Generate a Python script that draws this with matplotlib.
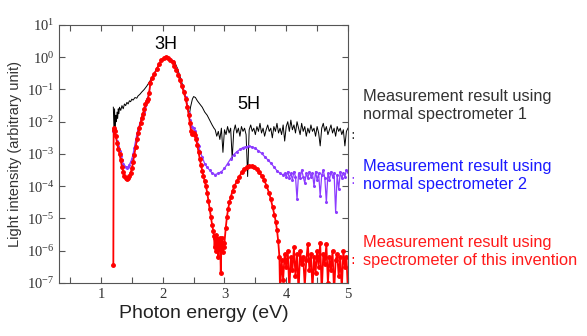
import numpy as np
import matplotlib.pyplot as plt

plt.rcParams['mathtext.fontset'] = 'custom'
plt.rcParams['mathtext.rm'] = 'Liberation Serif'
plt.rcParams['mathtext.it'] = 'Liberation Serif:italic'

# ---- Spectrometer 1 (black): energy (eV) and log10 intensity ----
e_black = [1.20, 1.21, 1.22, 1.23, 1.24, 1.25, 1.26, 1.27, 1.28, 1.29, 1.30, 1.32, 1.34,
           1.36, 1.38, 1.40, 1.42, 1.44, 1.46, 1.48, 1.50, 1.52, 1.55, 1.58, 1.60, 1.63,
           1.66, 1.70, 1.74, 1.78, 1.82, 1.86, 1.90, 1.94, 1.98, 2.02, 2.05, 2.08, 2.12,
           2.16, 2.20, 2.24, 2.28, 2.32, 2.36, 2.40, 2.43, 2.45, 2.48, 2.50, 2.53, 2.56,
           2.60, 2.64, 2.68, 2.72, 2.76, 2.80, 2.83]
log_black = [-1.55, -2.2, -1.6, -2.3, -1.8, -2.0, -1.7, -1.9, -1.6, -1.75, -1.55, -1.65, -1.5,
             -1.6, -1.45, -1.5, -1.4, -1.45, -1.35, -1.38, -1.3, -1.33, -1.25, -1.27, -1.2, -1.15,
             -1.08, -1.0, -0.9, -0.78, -0.65, -0.52, -0.38, -0.22, -0.1, -0.02, 0.0, -0.02, -0.06,
             -0.1, -0.18, -0.35, -0.6, -0.85, -1.15, -1.5, -1.8, -1.55, -1.3, -1.22, -1.25, -1.35,
             -1.45, -1.55, -1.7, -1.8, -1.95, -2.1, -2.2]
# noisy tail, sampled every 0.025 eV from 2.85 to 5.0
log_black_tail = [-2.25, -2.45, -2.3, -2.55, -2.2, -2.95, -2.25, -2.4, -2.15, -2.35,
                  -2.2, -3.15, -2.3, -2.1, -2.35, -2.2, -2.45, -2.15, -2.3, -2.2,
                  -2.4, -3.7, -2.25, -2.1, -2.3, -2.2, -2.4, -2.15, -2.3, -2.05,
                  -2.35, -2.2, -2.45, -2.25, -2.1, -2.3, -2.2, -2.5, -2.15, -2.3,
                  -2.05, -2.35, -2.2, -2.4, -2.1, -2.6, -2.15, -2.0, -2.3, -1.95,
                  -2.25, -2.1, -2.35, -2.0, -2.2, -2.4, -2.05, -2.3, -2.15, -2.45,
                  -2.2, -2.35, -2.1, -2.3, -2.2, -2.45, -2.15, -2.35, -2.75, -2.2,
                  -2.05, -2.3, -2.15, -2.4, -2.25, -2.1, -2.35, -2.2, -2.45, -2.15,
                  -2.3, -2.2, -2.4, -2.25, -2.75, -2.3, -2.2]

# ---- Spectrometer 2 (purple) ----
e_purple = [1.20, 1.22, 1.24, 1.26, 1.28, 1.30, 1.32, 1.34, 1.36, 1.38, 1.40, 1.42, 1.44,
            1.46, 1.48, 1.50, 1.52, 1.54, 1.56, 1.58, 1.60, 1.63, 1.66, 1.69, 1.72, 1.75,
            1.78, 1.80, 1.83, 1.86, 1.90, 1.94, 1.98, 2.02, 2.05, 2.08, 2.12, 2.16, 2.19,
            2.22, 2.25, 2.28, 2.31, 2.34, 2.37, 2.40, 2.42, 2.44, 2.46, 2.48, 2.50, 2.52,
            2.55, 2.58, 2.61, 2.64, 2.68, 2.72, 2.76, 2.80, 2.85, 2.90, 2.95, 3.00, 3.05,
            3.10, 3.15, 3.20, 3.25, 3.30, 3.35, 3.40, 3.45, 3.50, 3.55, 3.60, 3.65, 3.70,
            3.75, 3.80, 3.85, 3.90]
log_purple = [-2.3, -2.25, -2.45, -2.6, -2.75, -2.9, -3.05, -3.2, -3.3, -3.38, -3.42, -3.43, -3.4,
              -3.33, -3.25, -3.15, -3.0, -2.8, -2.6, -2.4, -2.25, -2.05, -1.85, -1.7, -1.5, -1.3,
              -1.1, -0.8, -0.65, -0.52, -0.38, -0.22, -0.1, -0.02, 0.0, -0.03, -0.07, -0.13, -0.25,
              -0.37, -0.52, -0.68, -0.86, -1.04, -1.24, -1.5, -1.72, -1.95, -2.12, -2.15, -2.2, -2.3,
              -2.5, -2.75, -2.95, -3.1, -3.3, -3.42, -3.5, -3.6, -3.64, -3.6, -3.55, -3.45, -3.3,
              -3.15, -3.02, -2.93, -2.86, -2.8, -2.77, -2.76, -2.78, -2.83, -2.9, -2.98, -3.08, -3.18,
              -3.28, -3.4, -3.52, -3.6]
# noisy tail, every 0.025 eV from 3.95 to 5.0
log_purple_tail = [-3.65, -3.6, -3.7, -3.55, -3.75, -3.6, -3.8, -3.55, -3.7, -4.4,
                   -3.6, -3.75, -3.5, -3.7, -3.9, -3.6, -3.75, -3.55, -3.7, -3.6,
                   -4.0, -3.55, -3.8, -3.6, -4.3, -3.65, -3.5, -3.75, -4.5, -3.6,
                   -3.8, -3.55, -3.7, -3.6, -4.8, -3.65, -4.1, -3.55, -3.75, -3.6,
                   -3.7, -3.5, -3.55]

# ---- Spectrometer of this invention (red) ----
e_red = [1.20, 1.205, 1.21, 1.22, 1.24, 1.26, 1.28, 1.30, 1.32, 1.34, 1.36, 1.38, 1.40, 1.42,
         1.44, 1.46, 1.48, 1.50, 1.52, 1.54, 1.56, 1.58, 1.60, 1.62, 1.64, 1.66, 1.68, 1.70,
         1.72, 1.74, 1.76, 1.78, 1.80, 1.83, 1.86, 1.90, 1.94, 1.98, 2.02, 2.05, 2.08, 2.12,
         2.16, 2.19, 2.22, 2.25, 2.28, 2.31, 2.34, 2.37, 2.40, 2.42, 2.44, 2.46, 2.48, 2.50,
         2.52, 2.54, 2.56, 2.58, 2.60, 2.62, 2.64, 2.66, 2.68, 2.70, 2.72, 2.74, 2.76, 2.78,
         2.80, 2.82, 2.83, 2.84, 2.85, 2.86, 2.87, 2.88, 2.89, 2.90, 2.91, 2.92, 2.93, 2.94,
         2.95, 2.96, 2.97, 2.98, 2.99, 3.00, 3.02, 3.04, 3.06, 3.08, 3.10, 3.13, 3.16, 3.20,
         3.24, 3.28, 3.32, 3.36, 3.40, 3.44, 3.48, 3.52, 3.56, 3.60, 3.64, 3.68, 3.72, 3.75,
         3.78, 3.81, 3.83, 3.85, 3.87, 3.89]
log_red = [-6.43, -2.2, -2.25, -2.3, -2.45, -2.65, -2.85, -3.0, -3.2, -3.4, -3.55, -3.68, -3.75, -3.77,
           -3.75, -3.68, -3.58, -3.45, -3.25, -3.02, -2.78, -2.55, -2.35, -2.2, -2.05, -1.9, -1.76, -1.6,
           -1.45, -1.35, -1.3, -1.1, -0.8, -0.65, -0.52, -0.38, -0.22, -0.1, -0.02, 0.0, -0.03, -0.08,
           -0.15, -0.28, -0.4, -0.55, -0.72, -0.9, -1.08, -1.28, -1.55, -1.78, -2.05, -2.3, -2.38, -2.35,
           -2.42, -2.55, -2.72, -2.95, -3.15, -3.35, -3.52, -3.68, -3.85, -4.0, -4.2, -4.45, -4.7, -4.95,
           -5.2, -5.4, -5.55, -5.9, -5.6, -6.0, -5.5, -5.8, -5.65, -6.2, -5.7, -5.95, -5.6, -6.7,
           -5.8, -5.6, -6.05, -5.75, -5.9, -5.75, -5.3, -4.95, -4.7, -4.5, -4.35, -4.15, -4.0, -3.85,
           -3.7, -3.57, -3.47, -3.41, -3.38, -3.38, -3.41, -3.47, -3.56, -3.67, -3.8, -3.98, -4.2, -4.4,
           -4.65, -4.9, -5.1, -5.35, -5.7, -6.2]
# noisy tail, every 0.025 eV from 3.9 to 5.0
log_red_tail = [-7.3, -6.3, -6.9, -6.1, -6.5, -6.0, -7.2, -6.2, -6.6, -5.9,
                -6.8, -6.1, -7.3, -6.0, -6.4, -6.2, -7.1, -6.3, -5.8, -6.6,
                -6.1, -7.2, -6.2, -6.7, -6.0, -6.5, -5.75, -7.3, -6.1, -6.4,
                -5.8, -7.0, -6.2, -6.6, -6.0, -7.3, -6.3, -6.1, -6.8, -6.2,
                -7.2, -6.0, -6.5, -6.2, -7.3]

labels = ["Measurement result using\nnormal spectrometer 1",
          "Measurement result using\nnormal spectrometer 2",
          "Measurement result using\nspectrometer of this invention"]
label_colors = ['#333333', '#1a1aff', '#ff1a1a']

# ---- assemble series ----
x_b = np.concatenate([e_black, np.linspace(2.85, 5.0, len(log_black_tail))])
y_b = 10.0 ** np.concatenate([log_black, log_black_tail])
x_p = np.concatenate([e_purple, np.linspace(3.95, 5.0, len(log_purple_tail))])
y_p = 10.0 ** np.concatenate([log_purple, log_purple_tail])
x_r = np.concatenate([e_red, np.linspace(3.9, 5.0, len(log_red_tail))])
y_r = 10.0 ** np.concatenate([log_red, log_red_tail])

fig = plt.figure(figsize=(5.87, 3.36), dpi=100)
ax = fig.add_axes([0.1005, 0.158, 0.4923, 0.7676])

ax.plot(x_b, y_b, color='black', lw=0.7)
ax.plot(x_p, y_p, color='#8c3cff', lw=0.9, marker='o', ms=1.2)
ax.plot(x_r, y_r, color='red', lw=1.3, marker='o', ms=2.5)

ax.set_yscale('log')
ax.set_xlim(0.32, 5.0)
ax.set_ylim(1e-7, 1e1)

exps = list(range(-7, 2))
ax.set_yticks([10.0 ** k for k in exps])
ax.set_yticklabels([r'$10^{%d}$' % k for k in exps])
ax.yaxis.set_minor_locator(plt.NullLocator())
xt = [0.5, 1, 1.5, 2, 2.5, 3, 3.5, 4, 4.5, 5]
ax.set_xticks(xt)
ax.set_xticklabels(['' if t % 1 else str(int(t)) for t in xt])

ax.tick_params(direction='in', length=4, width=0.8, color='#555555',
               top=True, right=True, labelsize=10.5, labelcolor='#333333')
for lab in ax.get_xticklabels() + ax.get_yticklabels():
    lab.set_fontfamily('Liberation Serif')
for s in ax.spines.values():
    s.set_color('#555555')
    s.set_linewidth(0.8)

ax.set_xlabel('Photon energy (eV)', fontsize=14, family='Liberation Sans', color='#222222', labelpad=3)
ax.set_ylabel('Light intensity (arbitrary unit)', fontsize=10.5, family='Liberation Sans', color='#333333', labelpad=3)

ax.text(2.05, 10 ** 0.38, '3H', fontsize=13, family='Liberation Sans', ha='center', va='center')
ax.text(3.39, 10 ** -1.48, '5H', fontsize=13, family='Liberation Sans', ha='center', va='center')

# little leader marks at the right edge
for yv, c in zip([10 ** -2.4, 10 ** -3.8, 10 ** -6.3], ['#333333', '#8c3cff', 'red']):
    ax.text(5.04, yv, ':', color=c, fontsize=10, ha='left', va='center', clip_on=False)

for ty, lab, c in zip([0.686, 0.479, 0.25], labels, label_colors):
    fig.text(0.618, ty, lab, fontsize=11.8, family='Liberation Sans', color=c,
             ha='left', va='center', linespacing=1.25)

fig.savefig('out.png', dpi=100)
